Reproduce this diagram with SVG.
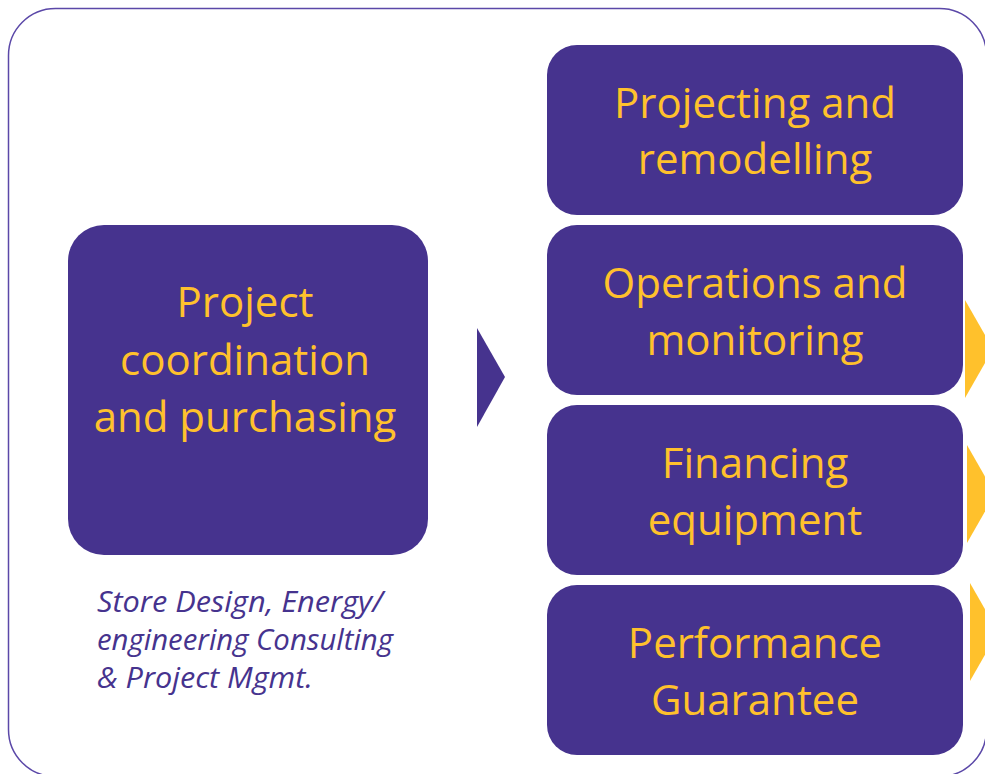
<svg xmlns="http://www.w3.org/2000/svg" width="985" height="774" viewBox="0 0 985 774">
<style>
.box{fill:#46338E;}
.lbl{font-family:"Open Sans","Noto Sans",sans-serif;font-size:42px;fill:#FFC12C;text-anchor:middle;}
.note{font-family:"Open Sans","Noto Sans",sans-serif;font-size:29px;font-style:italic;fill:#46338E;}
.parr{fill:#46338E;}
.yarr{fill:#FFC12C;}
</style>
<rect x="8.5" y="8.5" width="978" height="768" rx="47" ry="47" fill="#FFFFFF" stroke="#5B48A8" stroke-width="1.5"/>
<g id="node-left">
<rect class="box" x="68" y="225" width="360" height="330" rx="36" ry="36"/>
<text class="lbl" x="245" y="317">Project</text>
<text class="lbl" x="245" y="375">coordination</text>
<text class="lbl" x="245" y="432">and purchasing</text>
</g>
<g id="note">
<text class="note" x="97" y="612" textLength="286" lengthAdjust="spacingAndGlyphs">Store Design, Energy/</text>
<text class="note" x="97" y="650" textLength="296" lengthAdjust="spacingAndGlyphs">engineering Consulting</text>
<text class="note" x="97" y="688" textLength="216" lengthAdjust="spacingAndGlyphs">&amp; Project Mgmt.</text>
</g>
<g id="node-projecting">
<rect class="box" x="547" y="45" width="416" height="170" rx="30" ry="30"/>
<text class="lbl" x="755" y="118">Projecting and</text>
<text class="lbl" x="755" y="174">remodelling</text>
</g>
<g id="node-operations">
<rect class="box" x="547" y="225" width="416" height="170" rx="30" ry="30"/>
<text class="lbl" x="755" y="298">Operations and</text>
<text class="lbl" x="755" y="355">monitoring</text>
</g>
<g id="node-financing">
<rect class="box" x="547" y="405" width="416" height="170" rx="30" ry="30"/>
<text class="lbl" x="755" y="478">Financing</text>
<text class="lbl" x="755" y="535">equipment</text>
</g>
<g id="node-performance">
<rect class="box" x="547" y="585" width="416" height="170" rx="30" ry="30"/>
<text class="lbl" x="755" y="658">Performance</text>
<text class="lbl" x="755" y="715">Guarantee</text>
</g>
<g id="connectors">
<polygon class="parr" points="477,328 505,377 477,427"/>
<polygon class="yarr" points="965,300 993,349 965,398"/>
<polygon class="yarr" points="967,445 995,494 967,543"/>
<polygon class="yarr" points="970,583 998,632 970,681"/>
</g>
</svg>
